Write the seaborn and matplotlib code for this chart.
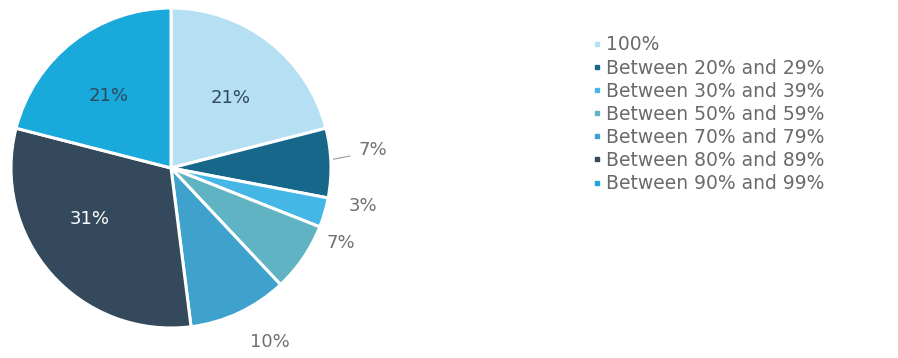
import matplotlib
matplotlib.use("Agg")
import matplotlib.pyplot as plt
from matplotlib.lines import Line2D
import seaborn as sns

categories = ["100%", "Between 20% and 29%", "Between 30% and 39%",
              "Between 50% and 59%", "Between 70% and 79%",
              "Between 80% and 89%", "Between 90% and 99%"]
shares = [21, 7, 3, 7, 10, 31, 21]
slice_colors = ["#b5dff2", "#17678a", "#45b7e6", "#5fb3c2",
                "#3fa2cc", "#344a5c", "#1aa9db"]

sns.set_theme(style="white")
plt.rcParams["font.family"] = ["DejaVu Sans"]

W, H = 898, 358
fig = plt.figure(figsize=(W / 100, H / 100), dpi=100)
cx, cy, R = 171, 168, 160
ax = fig.add_axes([(cx - R) / W, (H - cy - R) / H, 2 * R / W, 2 * R / H])
palette = sns.color_palette(slice_colors)

wedges, _ = ax.pie(shares, colors=palette, startangle=90, counterclock=False,
                   radius=1.0, wedgeprops=dict(edgecolor="white", linewidth=2.2))
ax.set_xlim(-1, 1)
ax.set_ylim(-1, 1)
ax.set_aspect("equal")
ax.axis("off")

# label placement in pie units (x, y), text colour
label_pos = [(0.37, 0.44), (1.26, 0.11), (1.20, -0.24), (1.06, -0.47),
             (0.62, -1.09), (-0.51, -0.32), (-0.39, 0.45)]
label_col = ["#2e4a5c", "#707070", "#707070", "#707070",
             "#707070", "white", "#2e4a5c"]
for v, (x, y), c in zip(shares, label_pos, label_col):
    ax.text(x, y, f"{v}%", ha="center", va="center", fontsize=13,
            color=c, clip_on=False)

# short leader for the small dark slice
ax.add_line(Line2D([1.015, 1.12], [0.055, 0.075], color="#9a9a9a", lw=0.8,
                   clip_on=False))

handles = [Line2D([0], [0], marker="s", linestyle="none", markersize=3.5,
                  markerfacecolor=c, markeredgecolor=c) for c in palette]
fig.legend(handles, categories, loc="upper left",
           bbox_to_anchor=(584 / W, 1 - 26 / H), frameon=False,
           fontsize=13.5, labelcolor="#6a6a6a", handlelength=0.4,
           handletextpad=0.25, labelspacing=0.22, borderpad=0)

fig.savefig("out.png", dpi=100, facecolor="white")
